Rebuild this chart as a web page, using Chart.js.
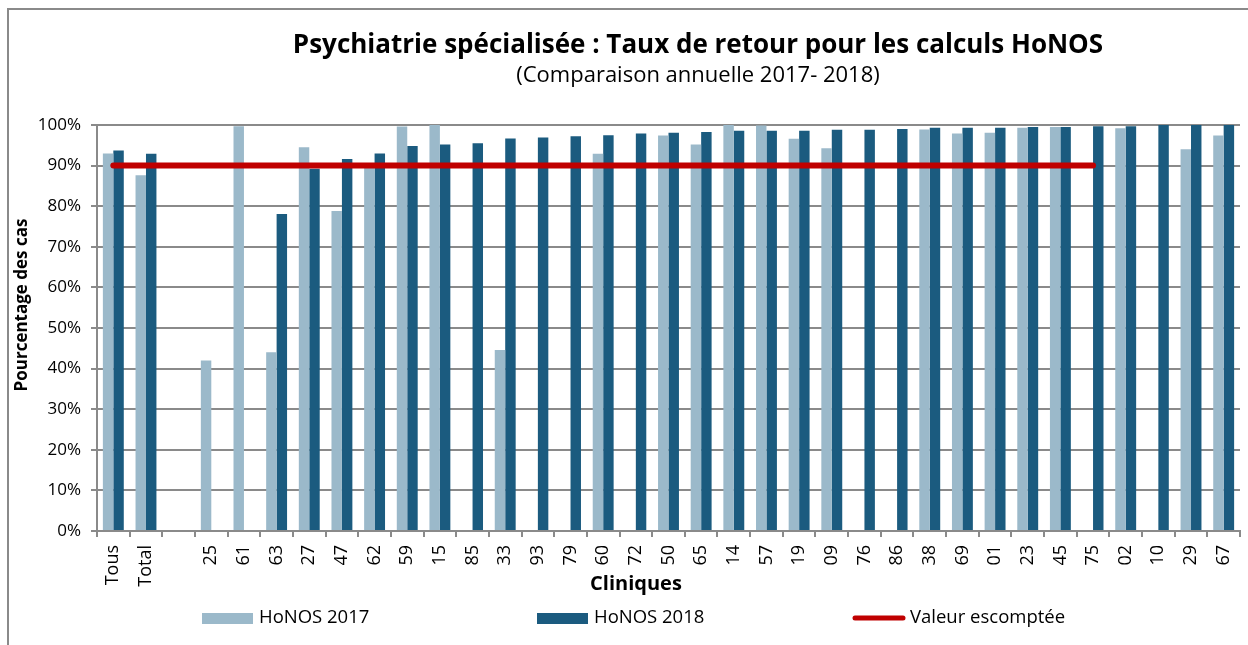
<!DOCTYPE html>
<html lang="fr">
<head>
<meta charset="utf-8">
<title>Psychiatrie spécialisée : Taux de retour HoNOS</title>
<script src="https://cdn.jsdelivr.net/npm/chart.js@4/dist/chart.umd.min.js"></script>
<style>
  html, body { margin: 0; padding: 0; background: #fff; }
  #wrap { position: relative; width: 1248px; height: 645px; }
</style>
</head>
<body>
<div id="wrap"><canvas id="graphique"></canvas></div>
<script>
const cliniques = ['Tous', 'Total', '', '25', '61', '63', '27', '47', '62', '59', '15', '85', '33', '93', '79', '60', '72', '50', '65', '14', '57', '19', '09', '76', '86', '38', '69', '01', '23', '45', '75', '02', '10', '29', '67'];
const honos2017 = [93.0, 87.6, null, 42.0, 99.7, 44.0, 94.5, 78.8, 89.4, 99.6, 100, null, 44.6, null, null, 92.9, null, 97.4, 95.2, 100, 99.9, 96.6, 94.3, null, null, 98.9, 97.9, 98.1, 99.3, 99.5, null, 99.2, null, 94.0, 97.4];
const honos2018 = [93.7, 92.9, null, null, null, 78.1, 89.2, 91.6, 93.0, 94.8, 95.2, 95.5, 96.7, 96.9, 97.2, 97.5, 97.9, 98.1, 98.3, 98.6, 98.6, 98.6, 98.8, 98.8, 99.0, 99.3, 99.3, 99.3, 99.5, 99.5, 99.7, 99.7, 100, 100, 100];
const valeurEscomptee = [90, 90, 90, 90, 90, 90, 90, 90, 90, 90, 90, 90, 90, 90, 90, 90, 90, 90, 90, 90, 90, 90, 90, 90, 90, 90, 90, 90, 90, 90, 90, null, null, null, null];
const graduationsY = [0, 10, 20, 30, 40, 50, 60, 70, 80, 90, 100];

const police = '"Open Sans", "Noto Sans", sans-serif';

// cadre, titres et légende dessinés à la main
const decor = {
  id: 'decor',
  beforeDraw(chart) {
    const ctx = chart.ctx;
    ctx.save();
    ctx.strokeStyle = '#8a8a8a';
    ctx.lineWidth = 2;
    ctx.beginPath();
    ctx.moveTo(8, 645);
    ctx.lineTo(8, 9);
    ctx.lineTo(1248, 9);
    ctx.stroke();
    ctx.restore();
  },
  afterDraw(chart) {
    const ctx = chart.ctx;
    ctx.save();
    ctx.fillStyle = '#000';
    ctx.textAlign = 'center';
    ctx.textBaseline = 'middle';
    ctx.font = 'bold 26px ' + police;
    ctx.fillText('Psychiatrie spécialisée : Taux de retour pour les calculs HoNOS', 698, 46);
    ctx.font = '22px ' + police;
    ctx.fillText('(Comparaison annuelle 2017- 2018)', 698, 76);
    ctx.font = 'bold 20px ' + police;
    ctx.fillText('Cliniques', 636, 584);

    ctx.save();
    ctx.translate(22, 305);
    ctx.rotate(-Math.PI / 2);
    ctx.font = 'bold 17px ' + police;
    ctx.fillText('Pourcentage des cas', 0, 0);
    ctx.restore();

    const ds = chart.data.datasets;
    const positions = [202, 537, 853];
    ctx.textAlign = 'left';
    ctx.font = '18.5px ' + police;
    ds.forEach((d, i) => {
      const x = positions[i];
      if (d.type === 'line') {
        ctx.strokeStyle = d.borderColor;
        ctx.lineWidth = 5;
        ctx.lineCap = 'round';
        ctx.beginPath();
        ctx.moveTo(x + 2, 618);
        ctx.lineTo(x + 50, 618);
        ctx.stroke();
      } else {
        ctx.fillStyle = d.backgroundColor;
        ctx.fillRect(x, 613, 51, 11);
      }
      ctx.fillStyle = '#000';
      ctx.fillText(d.label, x + 57, 618);
    });
    ctx.restore();
  }
};

new Chart(document.getElementById('graphique').getContext('2d'), {
  data: {
    labels: cliniques,
    datasets: [{
      type: 'bar',
      label: 'HoNOS 2017',
      data: honos2017,
      backgroundColor: '#9BB9CA',
      order: 1
    }, {
      type: 'bar',
      label: 'HoNOS 2018',
      data: honos2018,
      backgroundColor: '#1B5B7F',
      order: 1
    }, {
      type: 'line',
      label: 'Valeur escomptée',
      data: valeurEscomptee,
      borderColor: '#C00000',
      borderWidth: 6,
      borderCapStyle: 'round',
      pointRadius: 0,
      spanGaps: false,
      order: 0
    }]
  },
  options: {
    responsive: true,
    maintainAspectRatio: false,
    animation: false,
    layout: { padding: { top: 125, right: 8, left: 0, bottom: 0 } },
    datasets: {
      bar: { categoryPercentage: 0.64, barPercentage: 1.0 }
    },
    scales: {
      x: {
        afterFit(s) { s.height = 114; s.paddingLeft = 0; s.paddingRight = 0; },
        grid: { drawOnChartArea: false, offset: true, color: '#8a8a8a', lineWidth: 2, tickLength: 6 },
        border: { color: '#8a8a8a', width: 2 },
        ticks: {
          autoSkip: false,
          minRotation: 90,
          maxRotation: 90,
          color: '#000',
          padding: 8,
          font: { family: police, size: 18 }
        }
      },
      y: {
        min: 0,
        max: 100,
        afterFit(s) { s.width = 97; },
        afterBuildTicks(s) { s.ticks = graduationsY.map(v => ({ value: v })); },
        grid: { color: '#8a8a8a', lineWidth: 2, tickLength: 6 },
        border: { color: '#8a8a8a', width: 2 },
        ticks: {
          color: '#000',
          padding: 10,
          font: { family: police, size: 17 },
          callback: v => v + '%'
        }
      }
    },
    plugins: {
      legend: { display: false },
      title: { display: false },
      tooltip: {
        callbacks: { label: c => c.dataset.label + ' : ' + c.raw + '%' }
      }
    }
  },
  plugins: [decor]
});
</script>
</body>
</html>
